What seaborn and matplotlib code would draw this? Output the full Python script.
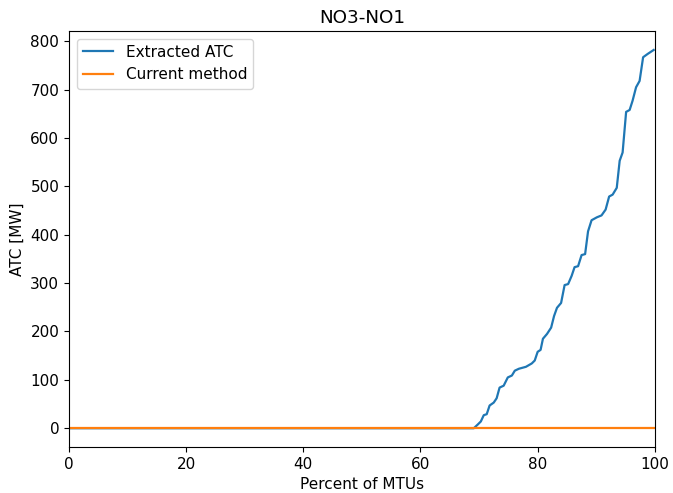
import matplotlib
matplotlib.use("Agg")
import matplotlib.pyplot as plt
import seaborn as sns
import pandas as pd

percent = [0.0, 68.3, 69.1, 69.8, 70.3, 70.8, 71.3, 71.8, 72.5, 73.0, 73.5, 74.2, 74.9,
           75.6, 76.1, 76.8, 78.0, 79.0, 79.5, 80.0, 80.5, 80.9, 81.6, 82.3, 82.8,
           83.3, 84.0, 84.6, 85.2, 85.8, 86.3, 86.9, 87.5, 88.1, 88.6, 89.2, 90.1,
           90.9, 91.6, 92.2, 92.8, 93.5, 94.0, 94.5, 95.1, 95.7, 96.2, 96.8, 97.4,
           98.0, 98.8, 99.8]
extracted_atc = [0, 0, 0, 8, 14, 27, 29, 47, 53, 62, 84, 88, 105,
                 109, 119, 123, 127, 134, 140, 158, 162, 185, 195, 208, 232,
                 249, 259, 296, 298, 315, 333, 335, 358, 360, 407, 430, 436,
                 440, 452, 479, 483, 497, 553, 570, 654, 658, 677, 705, 718,
                 767, 774, 782]
current_percent = [0.0, 100.0]
current_method = [0, 0]

plt.rcParams["font.size"] = 11

df1 = pd.DataFrame({"x": percent, "y": extracted_atc})
df2 = pd.DataFrame({"x": current_percent, "y": current_method})

fig, ax = plt.subplots(figsize=(6.73, 4.93), dpi=100)
sns.lineplot(data=df1, x="x", y="y", ax=ax, color="#1f77b4", label="Extracted ATC", linewidth=1.6)
sns.lineplot(data=df2, x="x", y="y", ax=ax, color="#ff7f0e", label="Current method", linewidth=1.6)
ax.set_xlim(0, 100)
ax.set_title("NO3-NO1")
ax.set_xlabel("Percent of MTUs")
ax.set_ylabel("ATC [MW]")
ax.legend(loc="upper left")
fig.subplots_adjust(left=0.1025, right=0.973, bottom=0.093, top=0.937)
fig.savefig("out.png", dpi=100)
